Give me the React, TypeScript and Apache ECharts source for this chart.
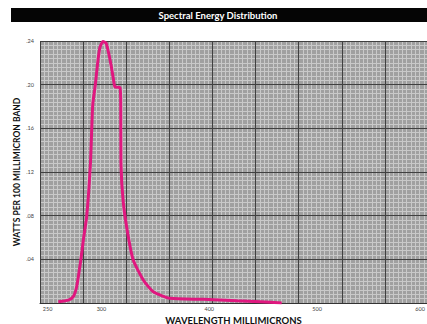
import React, { useEffect, useRef } from "react";
import * as echarts from "echarts";

const titleText = "Spectral Energy Distribution";
const xAxisName = "WAVELENGTH MILLIMICRONS";
const yAxisName = "WATTS PER 100 MILLIMICRON BAND";
const xTickLabels = [250, 300, 400, 500, 600];

const wavelengths = [
  260, 269.3, 273.9, 277, 279.5, 281.7, 283.2, 286.3, 289.8, 291.9, 294.3, 296.8,
  298.7, 301.4, 304.2, 306.4, 308.9, 311, 312.6, 317.2, 317.9, 318.1, 320.3, 324.9,
  329.5, 338.8, 348.1, 363.6, 394.5, 425.5, 447.1, 467.2,
];
const watts = [
  0.0012, 0.0027, 0.0058, 0.0149, 0.0302, 0.0455, 0.0577, 0.0791, 0.1282, 0.1814,
  0.1997, 0.2226, 0.2345, 0.2395, 0.2382, 0.2302, 0.218, 0.2058, 0.1979, 0.1974,
  0.1814, 0.1282, 0.0916, 0.0607, 0.0394, 0.0211, 0.0104, 0.0043, 0.0034, 0.0021,
  0.0012, 0.0,
];

export default function App() {
  const ref = useRef<HTMLDivElement>(null);
  useEffect(() => {
    if (!ref.current) return;
    const chart = echarts.init(ref.current, null, { renderer: "svg" });
    const font = "Lato, 'Liberation Sans', sans-serif";
    const hidden = {
      axisLine: { show: false },
      axisTick: { show: false },
      axisLabel: { show: false },
    };
    chart.setOption({
      animation: false,
      backgroundColor: "#ffffff",
      textStyle: { fontFamily: font },
      graphic: [
        {
          type: "rect",
          shape: { x: 11, y: 8, width: 416, height: 14 },
          style: { fill: "#050505" },
          z: 10,
        },
        {
          type: "text",
          x: 218,
          y: 15,
          style: {
            text: titleText,
            fill: "#ffffff",
            font: `bold 9.5px ${font}`,
            textAlign: "center",
            textVerticalAlign: "middle",
          },
          z: 11,
        },
      ],
      grid: {
        left: 40,
        right: 0,
        top: 41,
        bottom: 21,
        show: true,
        containLabel: false,
        outerBoundsMode: "none",
        backgroundColor: "#a0a0a0",
        borderWidth: 0,
      },
      xAxis: [
        {
          type: "value",
          min: 243,
          max: 602,
          z: 3,
          name: xAxisName,
          nameLocation: "middle",
          nameGap: 12,
          nameMoveOverlap: false,
          nameTextStyle: { fontSize: 9.5, fontWeight: "bold", color: "#111", fontFamily: font },
          axisLine: { show: true, lineStyle: { color: "#333", width: 1 } },
          axisTick: { show: false },
          splitLine: { show: false },
          axisLabel: {
            customValues: xTickLabels,
            alignMaxLabel: "right",
            fontSize: 5.5,
            color: "#444",
            margin: 3,
            fontFamily: font,
          },
        },
        {
          type: "value",
          min: 0,
          max: 359,
          interval: 40,
          position: "bottom",
          z: 0,
          ...hidden,
          splitLine: { show: false },
          minorTick: { show: false, splitNumber: 10 },
          minorSplitLine: { show: true, lineStyle: { color: "#c9c9c9", width: 1 } },
        },
        {
          type: "value",
          min: 0,
          max: 359,
          interval: 40,
          position: "bottom",
          z: 2,
          ...hidden,
          splitLine: { show: true, lineStyle: { color: "#404040", width: 1 } },
        },
      ],
      yAxis: [
        {
          type: "value",
          min: 0,
          max: 0.24,
          interval: 0.04,
          z: 0,
          name: yAxisName,
          nameLocation: "middle",
          nameGap: 19,
          nameMoveOverlap: false,
          nameRotate: 90,
          nameTextStyle: { fontSize: 8.5, fontWeight: "bold", color: "#111", fontFamily: font },
          axisLine: { show: false },
          axisTick: { show: false },
          axisLabel: {
            fontSize: 5.5,
            color: "#444",
            margin: 6,
            fontFamily: font,
            formatter: (v: number) => (v === 0 ? "" : v.toFixed(2).replace(/^0/, "")),
          },
          splitLine: { show: false },
          minorTick: { show: false, splitNumber: 10 },
          minorSplitLine: { show: true, lineStyle: { color: "#c9c9c9", width: 1 } },
        },
        {
          type: "value",
          min: 0,
          max: 0.24,
          interval: 0.04,
          z: 2,
          ...hidden,
          splitLine: { show: true, lineStyle: { color: "#404040", width: 1 } },
        },
      ],
      series: [
        {
          type: "line",
          xAxisIndex: 0,
          yAxisIndex: 0,
          data: wavelengths.map((w, i) => [w, watts[i]]),
          showSymbol: false,
          smooth: 0.2,
          lineStyle: { color: "#e0177f", width: 3 },
          z: 5,
        },
      ],
    });
    return () => chart.dispose();
  }, []);
  return (
    <div
      ref={ref}
      style={{ position: "fixed", left: 0, top: 0, width: 427, height: 324 }}
    />
  );
}
